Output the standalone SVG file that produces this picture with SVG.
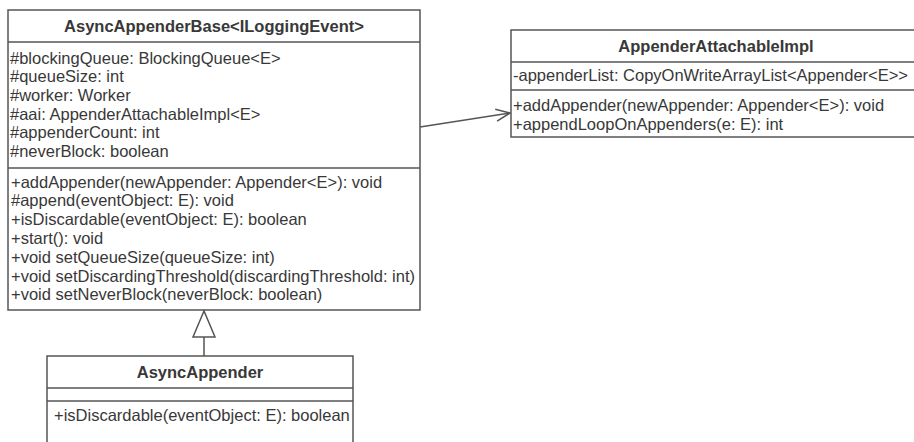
<svg xmlns="http://www.w3.org/2000/svg" width="914" height="442" viewBox="0 0 914 442">
<style>
.box{fill:#fff;stroke:#555;stroke-width:1.5}
.div{stroke:#555;stroke-width:1.5}
.t{font-family:"Liberation Sans",Arial,sans-serif;font-size:16.5px;fill:#383838}
.h{font-family:"Liberation Sans",Arial,sans-serif;font-size:16.5px;font-weight:bold;fill:#383838;text-anchor:middle}
.conn{stroke:#555;stroke-width:1.5;fill:none}
</style>
<defs>
<marker id="open" viewBox="0 0 16 16" refX="15" refY="8" markerWidth="16" markerHeight="16" markerUnits="userSpaceOnUse" orient="auto">
<path d="M1,2 L15,8 L1,14" fill="none" stroke="#555" stroke-width="1.5"/>
</marker>
</defs>
<rect width="914" height="442" fill="#fff"/>
<g id="AsyncAppenderBase">
<rect class="box" x="8" y="10" width="412" height="300"/>
<line class="div" x1="8" y1="42" x2="420" y2="42"/>
<line class="div" x1="8" y1="168" x2="420" y2="168"/>
<text class="h" x="214" y="32">AsyncAppenderBase&lt;ILoggingEvent&gt;</text>
<text class="t" x="10" y="63.5">#blockingQueue: BlockingQueue&lt;E&gt;</text>
<text class="t" x="10" y="82.2">#queueSize: int</text>
<text class="t" x="10" y="100.9">#worker: Worker</text>
<text class="t" x="10" y="119.6">#aai: AppenderAttachableImpl&lt;E&gt;</text>
<text class="t" x="10" y="138.3">#appenderCount: int</text>
<text class="t" x="10" y="157">#neverBlock: boolean</text>
<text class="t" x="11" y="187.5">+addAppender(newAppender: Appender&lt;E&gt;): void</text>
<text class="t" x="11" y="206.3">#append(eventObject: E): void</text>
<text class="t" x="11" y="225.1">+isDiscardable(eventObject: E): boolean</text>
<text class="t" x="11" y="243.9">+start(): void</text>
<text class="t" x="11" y="262.7">+void setQueueSize(queueSize: int)</text>
<text class="t" x="11" y="281.5">+void setDiscardingThreshold(discardingThreshold: int)</text>
<text class="t" x="11" y="300.3">+void setNeverBlock(neverBlock: boolean)</text>
</g>
<g id="AppenderAttachableImpl">
<rect class="box" x="511" y="30" width="410" height="107"/>
<line class="div" x1="511" y1="62" x2="921" y2="62"/>
<line class="div" x1="511" y1="90" x2="921" y2="90"/>
<text class="h" x="716" y="52">AppenderAttachableImpl</text>
<text class="t" x="513" y="81">-appenderList: CopyOnWriteArrayList&lt;Appender&lt;E&gt;&gt;</text>
<text class="t" x="513" y="111">+addAppender(newAppender: Appender&lt;E&gt;): void</text>
<text class="t" x="513" y="130">+appendLoopOnAppenders(e: E): int</text>
</g>
<g id="AsyncAppender">
<rect class="box" x="47" y="356" width="306" height="100"/>
<line class="div" x1="47" y1="388" x2="353" y2="388"/>
<line class="div" x1="47" y1="401" x2="353" y2="401"/>
<text class="h" x="200" y="378">AsyncAppender</text>
<text class="t" x="54" y="421">+isDiscardable(eventObject: E): boolean</text>
</g>
<g id="connectors">
<line class="conn" x1="420" y1="127" x2="510" y2="113" marker-end="url(#open)"/>
<line class="conn" x1="204" y1="337" x2="204" y2="356"/>
<polygon points="204,311 193,337 215,337" fill="#fff" stroke="#555" stroke-width="1.5"/>
</g>
</svg>
